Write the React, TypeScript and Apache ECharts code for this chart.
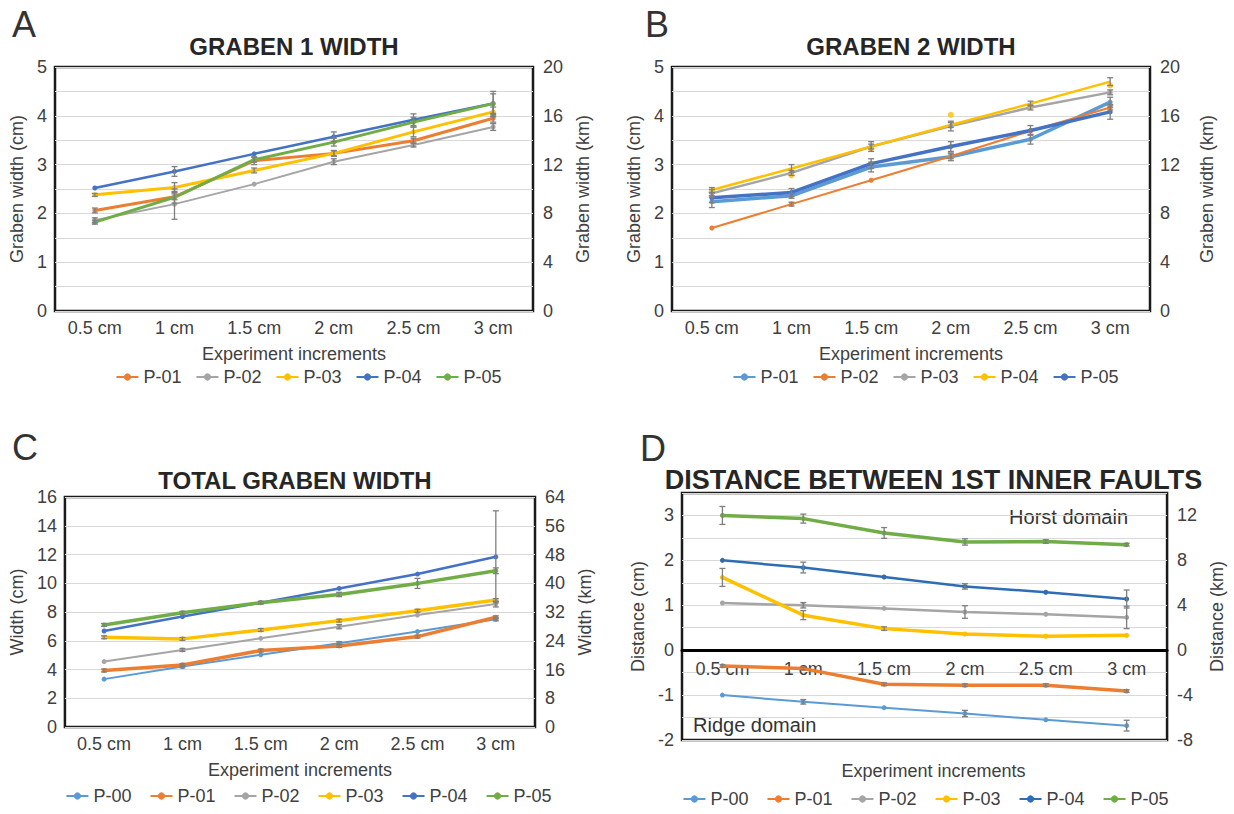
import React, { useEffect, useRef } from "react";
import * as echarts from "echarts";

const increments = ["0.5 cm", "1 cm", "1.5 cm", "2 cm", "2.5 cm", "3 cm"];

// Panel A – Graben 1 width (cm)
const aP01 = [2.06, 2.34, 3.08, 3.23, 3.49, 3.95];
const aP02 = [1.86, 2.19, 2.6, 3.06, 3.4, 3.77];
const aP03 = [2.38, 2.53, 2.88, 3.23, 3.67, 4.08];
const aP04 = [2.52, 2.86, 3.22, 3.57, 3.92, 4.25];
const aP05 = [1.82, 2.33, 3.1, 3.46, 3.87, 4.25];
const aErr01 = [0.05, 0.06, 0.08, 0.05, 0.05, 0.08];
const aErr02 = [0.05, 0.31, 0, 0.06, 0.04, 0.07];
const aErr03 = [0.03, 0.1, 0.05, 0.06, 0.1, 0.1];
const aErr04 = [0, 0.1, 0, 0.1, 0.12, 0.25];
const aErr05 = [0.04, 0.12, 0.05, 0.08, 0.1, 0.2];

// Panel B – Graben 2 width (cm)
const bP01 = [2.24, 2.36, 2.95, 3.16, 3.52, 4.28];
const bP02 = [1.7, 2.19, 2.68, 3.17, 3.69, 4.17];
const bP03 = [2.41, 2.83, 3.37, 3.79, 4.17, 4.48];
const bP04 = [2.48, 2.92, 3.37, 3.81, 4.25, 4.7];
const bP04Points = [2.45, 2.78, 3.33, 4.02, 4.2, 4.62];
const bP05 = [2.32, 2.43, 3.02, 3.37, 3.7, 4.08];
const bErr01 = [0.12, 0.05, 0.1, 0.08, 0.1, 0.1];
const bErr02 = [0, 0.04, 0, 0.05, 0, 0.05];
const bErr03 = [0.08, 0.05, 0.1, 0.1, 0.05, 0.05];
const bErr04 = [0.05, 0.08, 0.05, 0.05, 0.05, 0.08];
const bErr05 = [0.1, 0.08, 0.1, 0.1, 0.1, 0.15];

// Panel C – Total graben width (cm)
const cP00 = [3.33, 4.21, 5.02, 5.83, 6.64, 7.49];
const cP01 = [3.93, 4.32, 5.32, 5.64, 6.29, 7.63];
const cP02 = [4.55, 5.36, 6.17, 6.98, 7.79, 8.55];
const cP03 = [6.24, 6.13, 6.75, 7.4, 8.09, 8.83];
const cP04 = [6.68, 7.68, 8.65, 9.64, 10.64, 11.84];
const cP05 = [7.1, 7.95, 8.65, 9.22, 9.99, 10.87];
const cErr00 = [0, 0.1, 0, 0.1, 0, 0.1];
const cErr01 = [0.1, 0.1, 0.1, 0.1, 0.1, 0.1];
const cErr02 = [0, 0.1, 0, 0.15, 0, 0.2];
const cErr03 = [0.1, 0.1, 0.1, 0.1, 0.1, 0.1];
const cErr04 = [0, 0, 0, 0, 0, 3.2];
const cErr05 = [0.1, 0.1, 0.1, 0.15, 0.35, 0.2];

// Panel D – Distance between 1st inner faults (cm)
const dP00 = [-1.0, -1.15, -1.28, -1.41, -1.55, -1.68];
const dP01 = [-0.35, -0.41, -0.76, -0.78, -0.78, -0.91];
const dP02 = [1.05, 1.0, 0.93, 0.85, 0.8, 0.73];
const dP03 = [1.62, 0.78, 0.48, 0.36, 0.31, 0.33];
const dP04 = [2.0, 1.84, 1.63, 1.42, 1.29, 1.14];
const dP05 = [3.0, 2.93, 2.61, 2.41, 2.42, 2.35];
const dErr00 = [0, 0.05, 0, 0.07, 0, 0.12];
const dErr01 = [0.03, 0.03, 0.03, 0.03, 0.03, 0.03];
const dErr02 = [0, 0.06, 0, 0.14, 0, 0.25];
const dErr03 = [0.2, 0.1, 0.04, 0, 0, 0];
const dErr04 = [0, 0.12, 0, 0.06, 0, 0.2];
const dErr05 = [0.2, 0.1, 0.12, 0.07, 0.04, 0.03];

const ORANGE = "#ED7D31";
const GRAY = "#A5A5A5";
const YELLOW = "#FFC000";
const BLUE = "#4472C4";
const LBLUE = "#5B9BD5";
const GREEN = "#70AD47";
const DBLUE = "#2E6DB4";

const FONT = "'Liberation Sans', Arial, sans-serif";
const TXT = "#404040";
const TICK = 18;
const NAME = 18;

type S = { name: string; color: string; width: number; data: number[]; err: number[]; points?: number[] };

function lineSeries(s: S) {
  return {
    type: "line",
    name: s.name,
    data: s.data,
    symbol: "circle",
    symbolSize: s.points ? 0 : 5,
    showSymbol: !s.points,
    lineStyle: { color: s.color, width: s.width },
    itemStyle: { color: s.color },
    z: 2,
  };
}

function pointSeries(s: S) {
  return {
    type: "scatter",
    name: s.name,
    data: s.points,
    symbol: "circle",
    symbolSize: 6,
    itemStyle: { color: s.color },
    z: 3,
  };
}

function errSeries(s: S) {
  return {
    type: "custom",
    name: "err " + s.name,
    data: s.data.map((v, i) => [i, v, s.err[i]]),
    encode: { x: 0, y: 1 },
    silent: true,
    z: 4,
    renderItem: (params: any, api: any) => {
      const e = api.value(2);
      if (!e) return { type: "group", children: [] };
      const x = api.value(0);
      const y = api.value(1);
      const t = api.coord([x, y + e]);
      const b = api.coord([x, y - e]);
      const st = { stroke: "#7F7F7F", lineWidth: 1.3 };
      return {
        type: "group",
        children: [
          { type: "line", shape: { x1: t[0], y1: t[1], x2: b[0], y2: b[1] }, style: st },
          { type: "line", shape: { x1: t[0] - 3, y1: t[1], x2: t[0] + 3, y2: t[1] }, style: st },
          { type: "line", shape: { x1: b[0] - 3, y1: b[1], x2: b[0] + 3, y2: b[1] }, style: st },
        ],
      };
    },
  };
}

type Cfg = {
  title: string;
  titleSize: number;
  titleY: number;
  letter: string;
  letterX: number;
  letterY: number;
  grid: { left: number; right: number; top: number; bottom: number };
  yMin: number;
  yMax: number;
  yInterval: number;
  intOnly: boolean;
  y2Min: number;
  y2Max: number;
  y2Interval: number;
  yName: string;
  y2Name: string;
  yNameGap: number;
  y2NameGap: number;
  series: S[];
  legendTop: number;
  legendGap: number;
  legendShift: number;
  zeroAxis?: boolean;
  xTitleY?: number;
  extra?: any[];
};

const W = 617;
const H = 407;

function buildOption(c: Cfg) {
  const boxCx = c.grid.left + (W - c.grid.left - c.grid.right) / 2;
  const gridH = H - c.grid.top - c.grid.bottom;
  const zeroOffset = c.zeroAxis ? -((0 - c.yMin) / (c.yMax - c.yMin)) * gridH : 0;
  const intFmt = (v: number) =>
    c.intOnly ? (Math.abs(v - Math.round(v)) < 1e-6 ? String(Math.round(v)) : "") : String(v);
  const graphic: any[] = [
    {
      type: "text",
      x: c.letterX,
      y: c.letterY,
      style: { text: c.letter, fill: "#333", fontSize: 36, fontFamily: FONT, align: "left", verticalAlign: "middle" },
    },
    {
      type: "text",
      x: boxCx,
      y: c.titleY,
      style: {
        text: c.title,
        fill: "#262626",
        fontSize: c.titleSize,
        fontWeight: "bold",
        fontFamily: FONT,
        align: "center",
        verticalAlign: "middle",
      },
    },
  ];
  if (c.xTitleY !== undefined) {
    graphic.push({
      type: "text",
      x: boxCx,
      y: c.xTitleY,
      style: { text: "Experiment increments", fill: TXT, fontSize: NAME, fontFamily: FONT, align: "center", verticalAlign: "middle" },
    });
  }
  if (c.extra) graphic.push(...c.extra);

  const series: any[] = [];
  c.series.forEach((s) => {
    series.push(lineSeries(s));
    if (s.points) series.push(pointSeries(s));
  });
  c.series.forEach((s) => series.push(errSeries(s)));

  return {
    animation: false,
    textStyle: { fontFamily: FONT },
    grid: {
      ...c.grid,
      show: true,
      borderColor: "#1a1a1a",
      borderWidth: 2.5,
      backgroundColor: "transparent",
    },
    legend: {
      data: c.series.map((s) => s.name),
      left: "center",
      top: c.legendTop,
      padding: c.legendShift < 0 ? [0, -2 * c.legendShift, 0, 0] : [0, 0, 0, 2 * c.legendShift],
      itemGap: c.legendGap,
      itemWidth: 22,
      itemHeight: 9,
      textStyle: { fontSize: TICK, color: TXT, fontFamily: FONT },
    },
    xAxis: {
      type: "category",
      data: increments,
      boundaryGap: true,
      offset: zeroOffset,
      axisTick: { show: false },
      axisLine: c.zeroAxis
        ? { show: true, onZero: false, lineStyle: { color: "#000", width: 3 } }
        : { show: false },
      axisLabel: { fontSize: TICK, color: TXT, margin: c.zeroAxis ? 10 : 8, fontFamily: FONT, interval: 0 },
      splitLine: { show: false },
      name: c.zeroAxis ? "" : "Experiment increments",
      nameLocation: "middle",
      nameGap: 34,
      nameTextStyle: { fontSize: NAME, color: TXT, fontFamily: FONT },
    },
    yAxis: [
      {
        type: "value",
        min: c.yMin,
        max: c.yMax,
        interval: c.yInterval,
        axisLine: { show: false },
        axisTick: { show: false },
        axisLabel: { fontSize: TICK, color: TXT, formatter: intFmt, fontFamily: FONT, margin: 8 },
        splitLine: { show: true, lineStyle: { color: "#D9D9D9", width: 1 } },
        name: c.yName,
        nameLocation: "middle",
        nameRotate: 90,
        nameGap: c.yNameGap,
        nameTextStyle: { fontSize: NAME, color: TXT, fontFamily: FONT },
      },
      {
        type: "value",
        position: "right",
        min: c.y2Min,
        max: c.y2Max,
        interval: c.y2Interval,
        axisLine: { show: false },
        axisTick: { show: false },
        axisLabel: { fontSize: TICK, color: TXT, fontFamily: FONT, showMaxLabel: c.y2Max % c.y2Interval === 0, margin: 10 },
        splitLine: { show: false },
        name: c.y2Name,
        nameLocation: "middle",
        nameRotate: 90,
        nameGap: c.y2NameGap,
        nameTextStyle: { fontSize: NAME, color: TXT, fontFamily: FONT },
      },
    ],
    series,
    graphic,
  };
}

const cfgA: Cfg = {
  title: "GRABEN 1 WIDTH",
  titleSize: 24,
  titleY: 46,
  letter: "A",
  letterX: 12,
  letterY: 24,
  grid: { left: 55, right: 84, top: 67, bottom: 96 },
  yMin: 0, yMax: 5, yInterval: 0.5, intOnly: true,
  y2Min: 0, y2Max: 20, y2Interval: 4,
  yName: "Graben width (cm)", y2Name: "Graben width (km)",
  yNameGap: 26, y2NameGap: 40,
  series: [
    { name: "P-01", color: ORANGE, width: 3, data: aP01, err: aErr01 },
    { name: "P-02", color: GRAY, width: 2, data: aP02, err: aErr02 },
    { name: "P-03", color: YELLOW, width: 3, data: aP03, err: aErr03 },
    { name: "P-04", color: BLUE, width: 2.5, data: aP04, err: aErr04 },
    { name: "P-05", color: GREEN, width: 3, data: aP05, err: aErr05 },
  ],
  legendTop: 368, legendGap: 14, legendShift: -13,
};

const cfgB: Cfg = {
  title: "GRABEN 2 WIDTH",
  titleSize: 24,
  titleY: 46,
  letter: "B",
  letterX: 28,
  letterY: 24,
  grid: { left: 55, right: 84, top: 67, bottom: 96 },
  yMin: 0, yMax: 5, yInterval: 0.5, intOnly: true,
  y2Min: 0, y2Max: 20, y2Interval: 4,
  yName: "Graben width (cm)", y2Name: "Graben width (km)",
  yNameGap: 26, y2NameGap: 48,
  series: [
    { name: "P-01", color: LBLUE, width: 3.5, data: bP01, err: bErr01 },
    { name: "P-02", color: ORANGE, width: 2, data: bP02, err: bErr02 },
    { name: "P-03", color: GRAY, width: 2.5, data: bP03, err: bErr03 },
    { name: "P-04", color: YELLOW, width: 2.5, data: bP04, err: bErr04, points: bP04Points },
    { name: "P-05", color: BLUE, width: 3.5, data: bP05, err: bErr05 },
  ],
  legendTop: 368, legendGap: 14, legendShift: -14,
};

const cfgC: Cfg = {
  title: "TOTAL GRABEN WIDTH",
  titleSize: 24,
  titleY: 73,
  letter: "C",
  letterX: 12,
  letterY: 40,
  grid: { left: 55, right: 82, top: 90, bottom: 87 },
  yMin: 0, yMax: 16, yInterval: 2, intOnly: false,
  y2Min: 0, y2Max: 64, y2Interval: 8,
  yName: "Width (cm)", y2Name: "Width (km)",
  yNameGap: 28, y2NameGap: 40,
  series: [
    { name: "P-00", color: LBLUE, width: 2, data: cP00, err: cErr00 },
    { name: "P-01", color: ORANGE, width: 3.5, data: cP01, err: cErr01 },
    { name: "P-02", color: GRAY, width: 2, data: cP02, err: cErr02 },
    { name: "P-03", color: YELLOW, width: 3.5, data: cP03, err: cErr03 },
    { name: "P-04", color: BLUE, width: 2.5, data: cP04, err: cErr04 },
    { name: "P-05", color: GREEN, width: 3.5, data: cP05, err: cErr05 },
  ],
  legendTop: 380, legendGap: 18, legendShift: -13,
};

const cfgD: Cfg = {
  title: "DISTANCE BETWEEN 1ST INNER FAULTS",
  titleSize: 27,
  titleY: 73,
  letter: "D",
  letterX: 23,
  letterY: 41,
  grid: { left: 65, right: 49, top: 86, bottom: 74 },
  yMin: -2, yMax: 3.5, yInterval: 0.5, intOnly: true,
  y2Min: -8, y2Max: 14, y2Interval: 4,
  yName: "Distance (cm)", y2Name: "Distance (km)",
  yNameGap: 26, y2NameGap: 36,
  series: [
    { name: "P-00", color: LBLUE, width: 2, data: dP00, err: dErr00 },
    { name: "P-01", color: ORANGE, width: 3.5, data: dP01, err: dErr01 },
    { name: "P-02", color: GRAY, width: 2.5, data: dP02, err: dErr02 },
    { name: "P-03", color: YELLOW, width: 3.5, data: dP03, err: dErr03 },
    { name: "P-04", color: DBLUE, width: 2.5, data: dP04, err: dErr04 },
    { name: "P-05", color: GREEN, width: 3.5, data: dP05, err: dErr05 },
  ],
  legendTop: 383, legendGap: 18, legendShift: 0,
  zeroAxis: true,
  xTitleY: 364,
  extra: [
    {
      type: "text",
      x: 511,
      y: 110,
      style: { text: "Horst domain", fill: "#333", fontSize: 20, fontFamily: FONT, align: "right", verticalAlign: "middle" },
    },
    {
      type: "text",
      x: 76,
      y: 318,
      style: { text: "Ridge domain", fill: "#333", fontSize: 20, fontFamily: FONT, align: "left", verticalAlign: "middle" },
    },
  ],
};

function Panel({ cfg, left, top }: { cfg: Cfg; left: number; top: number }) {
  const ref = useRef<HTMLDivElement>(null);
  useEffect(() => {
    const chart = echarts.init(ref.current as HTMLDivElement, null, { renderer: "svg" });
    chart.setOption(buildOption(cfg) as any);
    return () => chart.dispose();
  }, [cfg]);
  return <div ref={ref} style={{ position: "absolute", left, top, width: W, height: H }} />;
}

export default function App() {
  return (
    <div style={{ position: "absolute", left: 0, top: 0, width: 1234, height: 814, background: "#fff" }}>
      <Panel cfg={cfgA} left={0} top={0} />
      <Panel cfg={cfgB} left={617} top={0} />
      <Panel cfg={cfgC} left={0} top={407} />
      <Panel cfg={cfgD} left={617} top={407} />
    </div>
  );
}
